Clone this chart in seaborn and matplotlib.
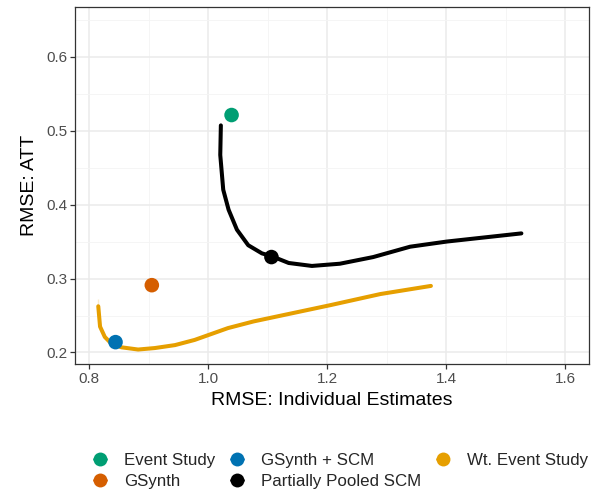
import numpy as np
import pandas as pd
import matplotlib
matplotlib.use("Agg")
import matplotlib.pyplot as plt
import seaborn as sns
from matplotlib.lines import Line2D

# single estimators
point_methods = ["Event Study", "GSynth", "GSynth + SCM", "Partially Pooled SCM"]
point_x = [1.039, 0.905, 0.844, 1.106]
point_y = [0.521, 0.291, 0.214, 0.329]

# partially pooled SCM path
pp_x = [1.021, 1.020, 1.020, 1.025, 1.034, 1.048, 1.067, 1.090, 1.107, 1.135,
        1.174, 1.221, 1.277, 1.339, 1.401, 1.526]
pp_y = [0.507, 0.483, 0.451, 0.420, 0.393, 0.366, 0.345, 0.334, 0.330, 0.321,
        0.317, 0.320, 0.329, 0.343, 0.350, 0.361]

# weighted event study path
wt_x = [0.815, 0.815, 0.818, 0.826, 0.837, 0.854, 0.882, 0.910, 0.944, 0.977,
        1.033, 1.076, 1.205, 1.289, 1.374]
wt_y = [0.272, 0.253, 0.235, 0.221, 0.212, 0.207, 0.204, 0.206, 0.210, 0.217,
        0.233, 0.242, 0.264, 0.279, 0.290]

colors = {
    "Event Study": "#009E73",
    "GSynth": "#D55E00",
    "GSynth + SCM": "#0072B2",
    "Partially Pooled SCM": "#000000",
    "Wt. Event Study": "#E69F00",
}

sns.set_style("whitegrid", {"xtick.bottom": True, "ytick.left": True,
                            "axes.edgecolor": "#333333"})
plt.rcParams["font.family"] = ["Liberation Sans", "DejaVu Sans"]
plt.rcParams["xtick.major.size"] = 3.5
plt.rcParams["ytick.major.size"] = 3.5

fig = plt.figure(figsize=(5.91, 4.93), dpi=100)
ax = fig.add_axes([0.127, 0.261, 0.870, 0.724])

pp_df = pd.DataFrame({"x": pp_x, "y": pp_y})
wt_df = pd.DataFrame({"x": wt_x, "y": wt_y})
pts_df = pd.DataFrame({"x": point_x, "y": point_y, "method": point_methods})

sns.lineplot(data=wt_df, x="x", y="y", sort=False, color=colors["Wt. Event Study"],
             linewidth=2.9, ax=ax, zorder=3, solid_joinstyle="round")
sns.lineplot(data=pp_df, x="x", y="y", sort=False, color="black",
             linewidth=2.9, ax=ax, zorder=3, solid_joinstyle="round")
sns.scatterplot(data=pts_df, x="x", y="y", hue="method", palette=colors,
                s=110, edgecolor="none", ax=ax, legend=False, zorder=4)

ax.set_xlim(0.776, 1.640)
ax.set_ylim(0.184, 0.6665)
ax.set_xticks([0.8, 1.0, 1.2, 1.4, 1.6])
ax.set_yticks([0.2, 0.3, 0.4, 0.5, 0.6])
ax.set_xticks([0.9, 1.1, 1.3, 1.5], minor=True)
ax.set_yticks([0.25, 0.35, 0.45, 0.55, 0.65], minor=True)
ax.grid(which="major", color="#EBEBEB", linewidth=1.1)
ax.grid(which="minor", color="#F4F4F4", linewidth=0.6)
ax.set_axisbelow(True)
for sp in ax.spines.values():
    sp.set_color("#333333")
    sp.set_linewidth(0.9)
ax.tick_params(which="major", direction="out", bottom=True, left=True, length=3.5,
               width=0.9, color="#333333", labelsize=11, labelcolor="#4D4D4D", pad=2)
ax.tick_params(which="minor", length=0)
ax.set_xlabel("RMSE: Individual Estimates", fontsize=14, color="black", labelpad=4)
ax.set_ylabel("RMSE: ATT", fontsize=14, color="black", labelpad=6)

order = ["Event Study", "GSynth", "GSynth + SCM", "Partially Pooled SCM", "Wt. Event Study"]
handles = [Line2D([0], [0], marker="o", color=colors[m], linestyle="-", linewidth=2.0,
                  markersize=10, markeredgewidth=0) for m in order]
fig.legend(handles, order, loc="lower center", bbox_to_anchor=(0.577, -0.022), ncol=3,
           frameon=False, fontsize=12.2, handlelength=0.7, handletextpad=1.1,
           columnspacing=0.9, labelspacing=0.35)

fig.savefig("out.png", dpi=100)
